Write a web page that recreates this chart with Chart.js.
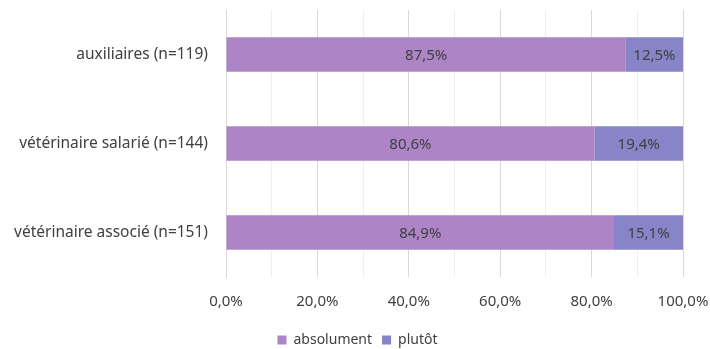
<!DOCTYPE html>
<html>
<head>
<meta charset="utf-8">
<script src="https://cdn.jsdelivr.net/npm/chart.js"></script>
<style>
  html, body { margin: 0; padding: 0; background: #fff; }
  #wrap { width: 710px; height: 349px; }
</style>
</head>
<body>
<div id="wrap"><canvas id="chart" width="710" height="349"></canvas></div>
<script>
const categories = ["auxiliaires (n=119)", "vétérinaire salarié (n=144)", "vétérinaire associé (n=151)"];
const absolument = [87.5, 80.6, 84.9];
const plutot = [12.5, 19.4, 15.1];
const seriesNames = ["absolument", "plutôt"];

const fmt = v => v.toFixed(1).replace(".", ",") + "%";
const FONT = "'Noto Sans', sans-serif";
const TEXT = "#404040";

// writes each segment's value in its middle
const segmentLabels = {
    id: "segmentLabels",
    afterDatasetsDraw(chart) {
        const ctx = chart.ctx;
        ctx.save();
        ctx.font = "15px " + FONT;
        ctx.fillStyle = TEXT;
        ctx.textAlign = "center";
        ctx.textBaseline = "middle";
        chart.data.datasets.forEach((ds, i) => {
            chart.getDatasetMeta(i).data.forEach((bar, j) => {
                const p = bar.getProps(["x", "y", "base"], true);
                ctx.fillText(fmt(ds.data[j]), (p.x + p.base) / 2, p.y + 1);
            });
        });
        ctx.restore();
    }
};

// nudge the legend a little lower and to the right of where the layout puts it
const legendShift = {
    id: "legendShift",
    afterLayout(chart) {
        const lg = chart.legend;
        lg.top += 8;
        lg.bottom += 8;
        lg.left += 28;
        lg.right += 0;
    }
};

new Chart(document.getElementById("chart"), {
    type: "bar",
    data: {
        labels: categories,
        datasets: [
            { label: seriesNames[0], data: absolument, backgroundColor: "#AD84C6" },
            { label: seriesNames[1], data: plutot, backgroundColor: "#8784C7" }
        ]
    },
    options: {
        indexAxis: "y",
        responsive: false,
        animation: false,
        layout: { padding: { left: 4, right: 27, top: 10, bottom: 0 } },
        datasets: { bar: { barPercentage: 0.39, categoryPercentage: 1 } },
        scales: {
            x: {
                stacked: true,
                min: 0, max: 100,
                afterFit: s => { s.height = 38; s.paddingLeft = 0; s.paddingRight = 0; },
                ticks: {
                    stepSize: 10,
                    padding: 16,
                    maxRotation: 0,
                    autoSkip: false,
                    color: TEXT,
                    font: { family: FONT, size: 15 },
                    callback: v => (v % 20 === 0 ? fmt(v) : "")
                },
                grid: {
                    // labelled lines every 20 %, fainter ones between
                    color: c => (c.tick && c.tick.value % 20 === 0 ? "#D9D9D9" : "#EFEFEF"),
                    drawTicks: false
                },
                border: { display: false }
            },
            y: {
                stacked: true,
                afterFit: s => { s.width = 222; s.paddingTop = 0; s.paddingBottom = 0; },
                ticks: {
                    padding: 18,
                    color: TEXT,
                    font: { family: FONT, size: 15.5 }
                },
                grid: { display: false, drawTicks: false },
                border: { display: true, color: "#D9D9D9" }
            }
        },
        plugins: {
            legend: {
                position: "bottom",
                labels: {
                    boxWidth: 9, boxHeight: 9, padding: 10,
                    color: TEXT,
                    font: { family: FONT, size: 14 }
                }
            },
            tooltip: { enabled: false }
        }
    },
    plugins: [segmentLabels, legendShift]
});
</script>
</body>
</html>
